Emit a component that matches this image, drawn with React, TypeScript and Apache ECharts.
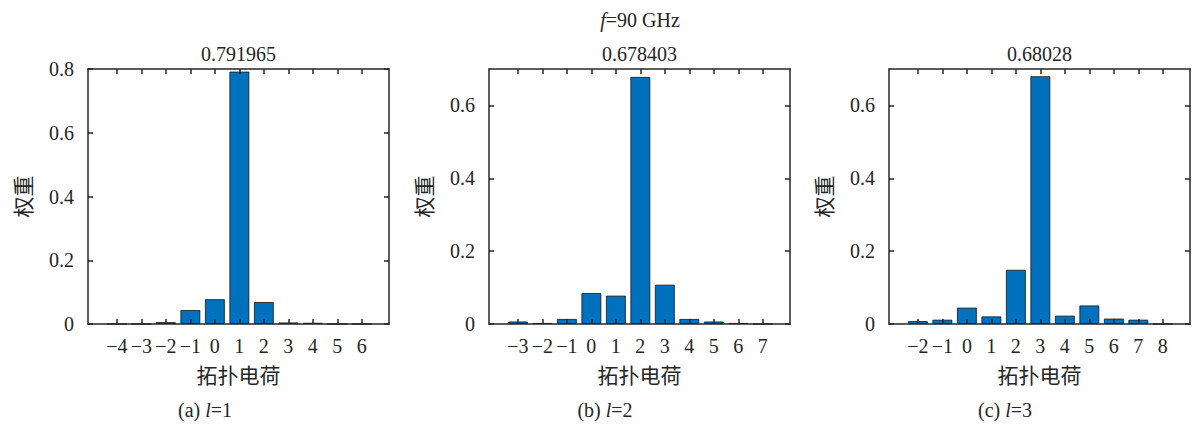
import React, { useEffect, useRef } from "react";
import * as echarts from "echarts";

const chargesA = [-4, -3, -2, -1, 0, 1, 2, 3, 4, 5, 6];
const weightsA = [0, 0, 0.006, 0.044, 0.078, 0.791965, 0.069, 0.005, 0.004, 0, 0];
const chargesB = [-3, -2, -1, 0, 1, 2, 3, 4, 5, 6, 7];
const weightsB = [0.007, 0.003, 0.014, 0.085, 0.078, 0.678403, 0.108, 0.014, 0.007, 0.003, 0];
const chargesC = [-2, -1, 0, 1, 2, 3, 4, 5, 6, 7, 8];
const weightsC = [0.008, 0.012, 0.045, 0.021, 0.149, 0.68028, 0.023, 0.051, 0.015, 0.012, 0];
const yTicksA = [0, 0.2, 0.4, 0.6, 0.8];
const yTicksBC = [0, 0.2, 0.4, 0.6];
const yMaxes = [0.8, 0.7, 0.7];
const peakTitles = ["0.791965", "0.678403", "0.68028"];
const captions = ["(a) {i|l}=1", "(b) {i|l}=2", "(c) {i|l}=3"];
const mainTitle = "{i|f}=90 GHz";
const xName = "拓扑电荷";
const yName = "权重";

const SERIF = '"Liberation Serif", "Noto Sans CJK SC", serif';
const CJK = '"Noto Sans CJK SC", sans-serif';
const INK = "#262626";
const FS = 20;

const fmtX = (v: number) => (v < 0 ? "\u2212" + Math.abs(v) : String(v));
const fmtY = (v: number) => (v === 0 ? "0" : v.toFixed(1));

export default function App() {
  const ref = useRef<HTMLDivElement>(null);
  useEffect(() => {
    if (!ref.current) return;
    const chart = echarts.init(ref.current, null, { renderer: "svg" });
    const panels = [
      { left: 88, charges: chargesA, weights: weightsA, yTicks: yTicksA, yMax: yMaxes[0] },
      { left: 489, charges: chargesB, weights: weightsB, yTicks: yTicksBC, yMax: yMaxes[1] },
      { left: 889, charges: chargesC, weights: weightsC, yTicks: yTicksBC, yMax: yMaxes[2] },
    ];
    const W = 301;
    const TOP = 69;
    const H = 255;
    const lineStyle = { color: INK, width: 1.5 };
    const tickStyle = { color: INK, width: 1.5 };
    const grids: any[] = [];
    const xAxes: any[] = [];
    const yAxes: any[] = [];
    const series: any[] = [];
    const graphics: any[] = [];
    panels.forEach((p, i) => {
      grids.push({ left: p.left, top: TOP, width: W, height: H, containLabel: false });
      const xmin = p.charges[0] - 1.18;
      const xmax = p.charges[p.charges.length - 1] + 1.11;
      const baseX = {
        gridIndex: i,
        type: "value",
        min: xmin,
        max: xmax,
        splitLine: { show: false },
        axisLine: { show: true, onZero: false, lineStyle },
        axisTick: { show: true, inside: true, length: 5, customValues: p.charges, lineStyle: tickStyle },
        z: 5,
      };
      xAxes.push({
        ...baseX,
        position: "bottom",
        axisLabel: {
          show: true,
          customValues: p.charges,
          formatter: fmtX,
          margin: 12,
          fontFamily: SERIF,
          fontSize: FS,
          color: INK,
        },
        name: xName,
        nameLocation: "middle",
        nameGap: 39,
        nameTextStyle: { fontFamily: CJK, fontSize: 21, color: INK },
      });
      xAxes.push({ ...baseX, position: "top", axisLabel: { show: false } });
      const baseY = {
        gridIndex: i,
        type: "value",
        min: 0,
        max: p.yMax,
        splitLine: { show: false },
        axisLine: { show: true, onZero: false, lineStyle },
        axisTick: { show: true, inside: true, length: 5, customValues: p.yTicks, lineStyle: tickStyle },
        z: 5,
      };
      yAxes.push({
        ...baseY,
        position: "left",
        axisLabel: {
          show: true,
          customValues: p.yTicks,
          formatter: fmtY,
          margin: 14,
          fontFamily: SERIF,
          fontSize: FS,
          color: INK,
        },
        name: yName,
        nameLocation: "middle",
        nameRotate: 90,
        nameGap: 56,
        nameTextStyle: { fontFamily: CJK, fontSize: 21, color: INK },
      });
      yAxes.push({ ...baseY, position: "right", axisLabel: { show: false } });
      series.push({
        type: "bar",
        xAxisIndex: 2 * i,
        yAxisIndex: 2 * i,
        data: p.charges.map((c, k) => [c, p.weights[k]]),
        barWidth: 20,
        itemStyle: { color: "#0072BD", borderColor: "rgba(20,20,20,0.8)", borderWidth: 1 },
      });
      graphics.push({
        type: "text",
        x: p.left + W / 2,
        y: 54,
        style: {
          text: peakTitles[i],
          fontFamily: SERIF,
          fontSize: FS,
          fill: INK,
          textAlign: "center",
          textVerticalAlign: "middle",
        },
      });
      graphics.push({
        type: "text",
        x: 205 + 400 * i,
        y: 410,
        style: {
          text: captions[i],
          fontFamily: SERIF,
          fontSize: FS,
          fill: INK,
          textAlign: "center",
          textVerticalAlign: "middle",
          rich: { i: { fontStyle: "italic", fontFamily: SERIF, fontSize: FS, fill: INK } },
        },
      });
    });
    graphics.push({
      type: "text",
      x: 640,
      y: 20,
      style: {
        text: mainTitle,
        fontFamily: SERIF,
        fontSize: FS,
        fill: INK,
        textAlign: "center",
        textVerticalAlign: "middle",
        rich: { i: { fontStyle: "italic", fontFamily: SERIF, fontSize: FS, fill: INK } },
      },
    });
    chart.setOption({
      animation: false,
      backgroundColor: "#ffffff",
      grid: grids,
      xAxis: xAxes,
      yAxis: yAxes,
      series,
      graphic: graphics,
    });
    return () => chart.dispose();
  }, []);
  return (
    <div
      ref={ref}
      style={{ position: "fixed", left: 0, top: 0, width: 1192, height: 426, background: "#fff" }}
    />
  );
}
